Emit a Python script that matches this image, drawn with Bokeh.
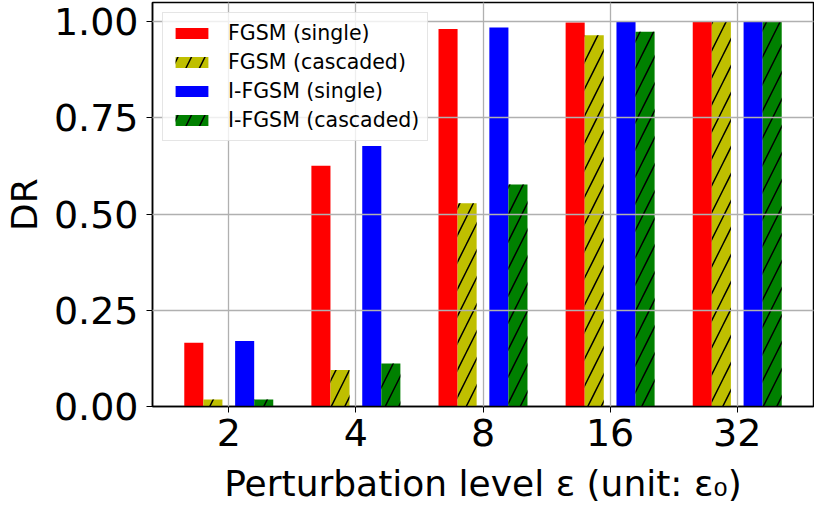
from bokeh.plotting import figure
from bokeh.models import FactorRange, Range1d, FixedTicker, NumeralTickFormatter, Legend, LegendItem
from bokeh.transform import dodge
from bokeh.embed import file_html
from bokeh.resources import INLINE

levels = ["2", "4", "8", "16", "32"]
fgsm_single = [0.166, 0.626, 0.981, 0.998, 1.0]
fgsm_cascaded = [0.018, 0.095, 0.528, 0.965, 1.0]
ifgsm_single = [0.170, 0.677, 0.985, 1.0, 1.0]
ifgsm_cascaded = [0.018, 0.112, 0.577, 0.974, 1.0]
y_ticks = [0, 0.25, 0.5, 0.75, 1.0]

data = dict(level=levels, fs=fgsm_single, fc=fgsm_cascaded, iss=ifgsm_single, ic=ifgsm_cascaded)

p = figure(x_range=FactorRange(factors=levels, range_padding=0.1, range_padding_units="absolute"),
           y_range=Range1d(0, 1.05),
           width=814, height=506,
           min_border_left=145, min_border_right=1, min_border_top=2, min_border_bottom=97,
           output_backend="svg", toolbar_location=None)

w = 0.15
series = [
    ("fs", -0.275, "#ff0000", None, "FGSM (single)"),
    ("fc", -0.125, "#bfbf00", "/", "FGSM (cascaded)"),
    ("iss", 0.125, "#0000ff", None, "I-FGSM (single)"),
    ("ic", 0.275, "#008000", "/", "I-FGSM (cascaded)"),
]
items = []
for col, off, color, hatch, name in series:
    kw = {}
    if hatch:
        kw = dict(hatch_pattern=hatch, hatch_color="black", hatch_scale=27, hatch_weight=1.5)
    r = p.vbar(x=dodge("level", off, range=p.x_range), top=col, width=w, bottom=0,
               source=data, fill_color=color, line_color=None, **kw)
    items.append(LegendItem(label=name, renderers=[r]))

legend = Legend(items=items, location="top_left", margin=10, padding=8, spacing=5,
                glyph_width=41, glyph_height=14, label_standoff=16,
                label_text_font="DejaVu Sans", label_text_font_size="20.5px",
                label_text_color="black",
                border_line_color="#cccccc", border_line_width=1.5,
                background_fill_alpha=0.8)
p.add_layout(legend)

p.yaxis.ticker = FixedTicker(ticks=y_ticks)
p.yaxis.formatter = NumeralTickFormatter(format="0.00")
p.yaxis.axis_label = "DR"
p.xaxis.axis_label = "Perturbation level ε (unit: ε₀)"

for ax in (p.xaxis, p.yaxis):
    ax.axis_label_text_font = "DejaVu Sans"
    ax.axis_label_text_font_style = "normal"
    ax.axis_label_text_font_size = "36px"
    ax.major_label_text_font = "DejaVu Sans"
    ax.major_label_text_font_size = "38px"
    ax.major_label_text_color = "black"
    ax.axis_label_text_color = "black"
    ax.axis_line_color = "black"
    ax.axis_line_width = 1.5
    ax.major_tick_line_color = "black"
    ax.major_tick_out = 6
    ax.major_tick_in = 0
    ax.minor_tick_line_color = None

p.xaxis.major_label_standoff = 6
p.xaxis.axis_label_standoff = 14
p.yaxis.major_label_standoff = 8
p.yaxis.axis_label_standoff = 6

for g in (p.xgrid, p.ygrid):
    g.grid_line_color = "#b0b0b0"
    g.grid_line_width = 1.3
    g.level = "guide"

p.outline_line_color = "black"
p.outline_line_width = 1.5
p.outline_line_alpha = 1

open("out.html", "w").write(file_html(p, INLINE))
